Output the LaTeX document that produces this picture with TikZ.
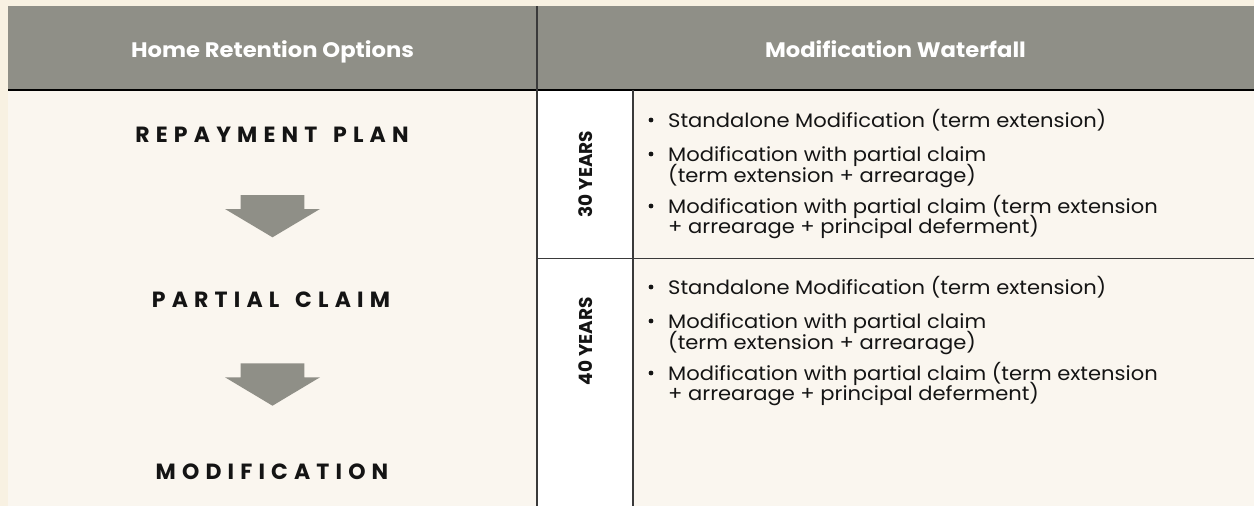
\documentclass[tikz,border=0pt]{standalone}
\usepackage{fontspec}
\setmainfont{Poppins}
\definecolor{outerbg}{HTML}{F8F1E2}
\definecolor{bodybg}{HTML}{FAF6EF}
\definecolor{hdrbg}{HTML}{8F8F87}
\definecolor{linec}{HTML}{3A3A3A}
\definecolor{txt}{HTML}{141414}
\newcommand{\wsp}{\hspace*{5pt} }
\tikzset{
  hdrtext/.style={anchor=base, inner sep=0pt, text=white, font=\bfseries\fontsize{21}{21}\selectfont\addfontfeature{FakeStretch=1.08}},
  steplabel/.style={anchor=base, inner sep=0pt, text=txt, font=\bfseries\fontsize{22}{22}\selectfont\addfontfeature{LetterSpace=28}},
  yearlabel/.style={rotate=90, inner sep=0pt, text=txt, font=\bfseries\fontsize{18.5}{18.5}\selectfont},
  bodyline/.style={anchor=base west, inner sep=0pt, text=txt, font=\fontsize{19.5}{21}\selectfont\addfontfeature{FakeStretch=1.08}},
  bulletdot/.style={circle, fill=txt, inner sep=0pt, minimum size=4.8pt},
  blockarrow/.style={fill=hdrbg},
  divider/.style={draw=linec, line width=1.5pt}
}
\begin{document}
\begin{tikzpicture}[x=1pt,y=-1pt]
\useasboundingbox (0,0) rectangle (1254,506);
\fill[outerbg] (0,0) rectangle (1254,506);
\fill[hdrbg] (8,6) rectangle (1254,90);
\fill[bodybg] (8,90) rectangle (1254,506);
\fill[white] (537,90) rectangle (633,506);
% lines
\draw[black, line width=2pt] (8,90) -- (1254,90);
\draw[divider] (537,6) -- (537,506);
\draw[divider] (633,90) -- (633,506);
\draw[divider] (537,258.5) -- (1254,258.5);
% header
\node[hdrtext] (h1) at (272.5,57) {Home Retention Options};
\node[hdrtext] (h2) at (895.5,57) {Modification Waterfall};
% left column
\node[steplabel] (s1) at (272,142) {REPAYMENT\wsp PLAN};
\node[steplabel] (s2) at (271,307) {PARTIAL\wsp CLAIM};
\node[steplabel] (s3) at (272,479) {MODIFICATION};
\fill[blockarrow] (240.7,195) -- (304.3,195) -- (304.3,209) -- (320,209) -- (272.5,237.3) -- (225,209) -- (240.7,209) -- cycle;
\fill[blockarrow] (240.7,363.3) -- (304.3,363.3) -- (304.3,377.3) -- (320,377.3) -- (272.5,405.7) -- (225,377.3) -- (240.7,377.3) -- cycle;
% year labels
\node[yearlabel] (y30) at (586,174) {30 YEARS};
\node[yearlabel] (y40) at (586,341) {40 YEARS};
% bullets block 1
\node[bulletdot] (d11) at (651,120) {};
\node[bodyline] (t11) at (668,127) {Standalone Modification (term extension)};
\node[bulletdot] (d12) at (651,154) {};
\node[bodyline] (t12) at (668,161) {Modification with partial claim};
\node[bodyline] (t12b) at (668,182) {(term extension + arrearage)};
\node[bulletdot] (d13) at (651,206) {};
\node[bodyline] (t13) at (668,213) {Modification with partial claim (term extension};
\node[bodyline] (t13b) at (668,233) {+ arrearage + principal deferment)};
% bullets block 2
\node[bulletdot] (d21) at (651,287) {};
\node[bodyline] (t21) at (668,294) {Standalone Modification (term extension)};
\node[bulletdot] (d22) at (651,321) {};
\node[bodyline] (t22) at (668,328) {Modification with partial claim};
\node[bodyline] (t22b) at (668,349) {(term extension + arrearage)};
\node[bulletdot] (d23) at (651,373) {};
\node[bodyline] (t23) at (668,380) {Modification with partial claim (term extension};
\node[bodyline] (t23b) at (668,400) {+ arrearage + principal deferment)};
\end{tikzpicture}
\end{document}
